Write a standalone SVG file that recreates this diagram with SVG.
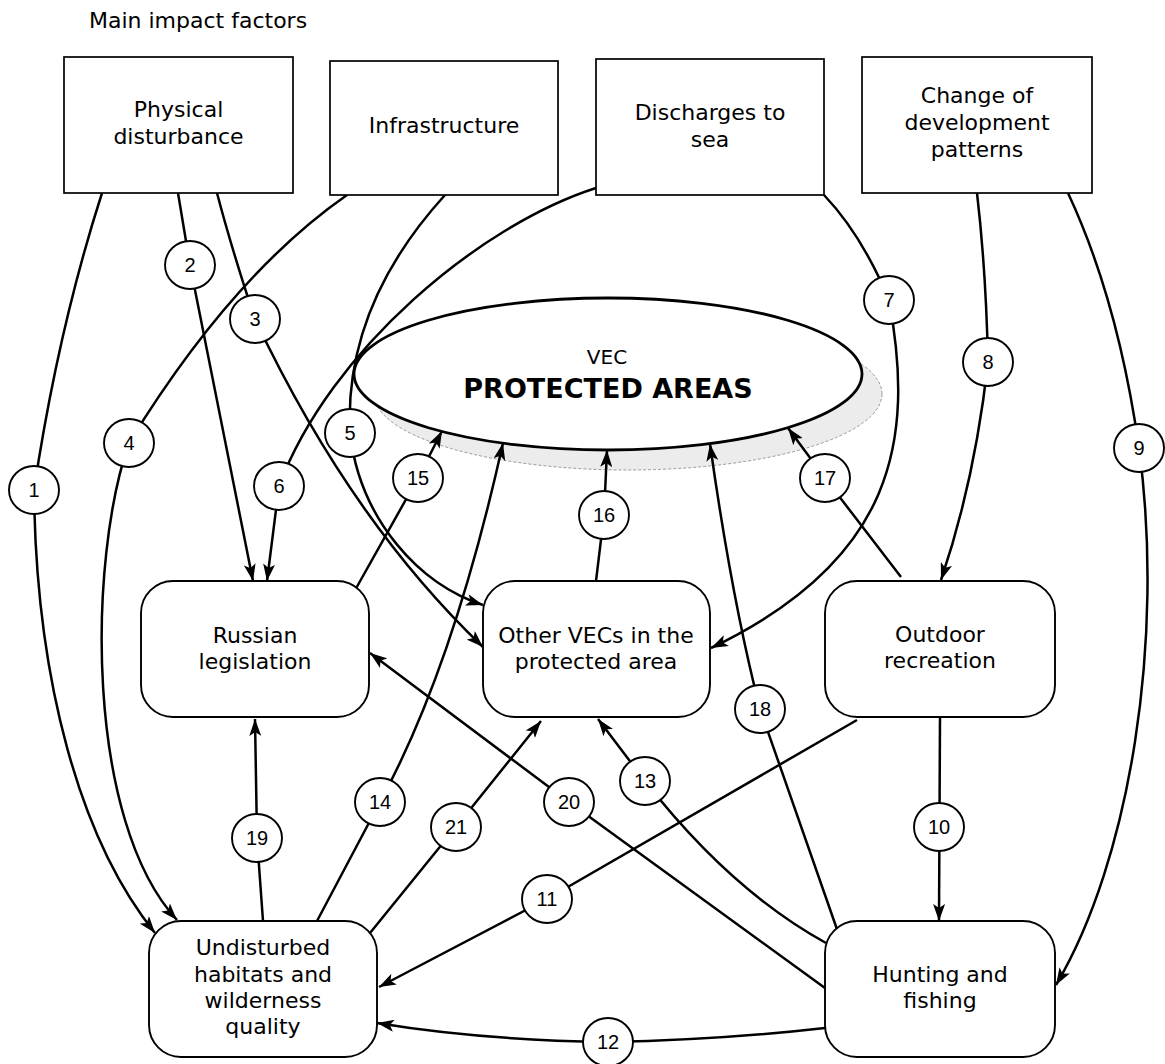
<svg xmlns="http://www.w3.org/2000/svg" width="1165" height="1064" viewBox="0 0 1165 1064">
<style>
  .box { fill: #fff; stroke: #000; stroke-width: 1.7; }
  .rbox { fill: #fff; stroke: #000; stroke-width: 1.9; }
  .txt { font-family: "DejaVu Sans", "Liberation Sans", sans-serif; font-size: 22px; fill: #000; text-anchor: middle; }
  .title { font-family: "DejaVu Sans", "Liberation Sans", sans-serif; font-size: 22px; fill: #000; }
  .conn { fill: none; stroke: #000; stroke-width: 2.5; }
  .arr { marker-end: url(#ah); }
  .lab { fill: #fff; stroke: #000; stroke-width: 1.9; }
  .num { font-family: "Liberation Sans", Arial, sans-serif; font-size: 20px; fill: #000; text-anchor: middle; }
</style>
<defs>
  <marker id="ah" viewBox="0 0 17 12" refX="17" refY="6" markerWidth="17" markerHeight="12" markerUnits="userSpaceOnUse" orient="auto">
    <path d="M0,0 L17,6 L0,12 L4,6 Z" fill="#000"/>
  </marker>
</defs>
<rect width="1165" height="1064" fill="#fff"/>

<text class="title" x="89" y="28">Main impact factors</text>

<!-- shadow of the VEC ellipse -->
<ellipse cx="628" cy="394" rx="254" ry="76" fill="#ececec" stroke="#999" stroke-width="1" stroke-dasharray="3 2"/>

<g id="connectors">
  <path class="conn arr" d="M102,193 Q58,330 34,490 C36,680 80,840 155,933"/>
  <path class="conn arr" d="M178,193 L190,265 L253,581"/>
  <path class="conn arr" d="M217,193 Q232,250 255,319 Q350,520 483,647"/>
  <path class="conn arr" d="M347,195 Q232,275 129,443 C88,560 85,820 177,920"/>
  <path class="conn arr" d="M445,195 C395,250 345,330 350,433 C360,520 420,585 483,605"/>
  <path class="conn arr" d="M596,188 C480,225 330,350 279,486 L267,581"/>
  <path class="conn arr" d="M824,195 Q862,235 889,300 C915,440 895,560 711,648"/>
  <path class="conn arr" d="M977,193 Q986,270 988,362 Q975,480 941,580"/>
  <path class="conn arr" d="M1068,193 Q1118,300 1139,448 C1165,640 1130,860 1056,985"/>
  <path class="conn arr" d="M940,717 L939,921"/>
  <path class="conn arr" d="M857,720 L547,899 L379,987"/>
  <path class="conn arr" d="M825,1028 Q720,1040 608,1042 Q480,1040 377,1023"/>
  <path class="conn arr" d="M826,943 Q730,890 645,781 L598,719"/>
  <path class="conn arr" d="M317,921 L380,802 Q453,668 503,443"/>
  <path class="conn arr" d="M354,592 L418,478 L442,431"/>
  <path class="conn arr" d="M596,581 L604,515 L607,450"/>
  <path class="conn arr" d="M901,577 L825,478 L788,428"/>
  <path class="conn arr" d="M839,935 L760,709 Q732,600 710,444"/>
  <path class="conn arr" d="M263,921 L257,838 L255,719"/>
  <path class="conn arr" d="M825,988 L569,802 L370,653"/>
  <path class="conn arr" d="M370,933 L456,827 L541,721"/>
</g>

<g id="n-physical">
  <rect class="box" x="64" y="57" width="229" height="136"/>
  <text class="txt" x="178.5" y="117">Physical</text>
  <text class="txt" x="178.5" y="144">disturbance</text>
</g>
<g id="n-infrastructure">
  <rect class="box" x="330" y="61" width="228" height="134"/>
  <text class="txt" x="444" y="133">Infrastructure</text>
</g>
<g id="n-discharges">
  <rect class="box" x="596" y="59" width="228" height="136"/>
  <text class="txt" x="710" y="120">Discharges to</text>
  <text class="txt" x="710" y="147">sea</text>
</g>
<g id="n-change">
  <rect class="box" x="862" y="57" width="230" height="136"/>
  <text class="txt" x="977" y="103">Change of</text>
  <text class="txt" x="977" y="130">development</text>
  <text class="txt" x="977" y="157">patterns</text>
</g>
<g id="n-protected">
  <ellipse cx="608" cy="374" rx="254" ry="76" fill="#fff" stroke="#000" stroke-width="2.8"/>
  <text class="txt" x="607" y="364" style="font-size:20px">VEC</text>
  <text class="txt" x="608" y="398" style="font-size:27px;font-weight:bold">PROTECTED AREAS</text>
</g>
<g id="n-russian">
  <rect class="rbox" x="141" y="581" width="228" height="136" rx="32" ry="32"/>
  <text class="txt" x="255" y="643">Russian</text>
  <text class="txt" x="255" y="669">legislation</text>
</g>
<g id="n-othervecs">
  <rect class="rbox" x="483" y="581" width="227" height="136" rx="32" ry="32"/>
  <text class="txt" x="596" y="643">Other VECs in the</text>
  <text class="txt" x="596" y="669">protected area</text>
</g>
<g id="n-outdoor">
  <rect class="rbox" x="825" y="581" width="230" height="136" rx="32" ry="32"/>
  <text class="txt" x="940" y="642">Outdoor</text>
  <text class="txt" x="940" y="668">recreation</text>
</g>
<g id="n-undisturbed">
  <rect class="rbox" x="149" y="921" width="228" height="136" rx="32" ry="32"/>
  <text class="txt" x="263" y="955">Undisturbed</text>
  <text class="txt" x="263" y="982">habitats and</text>
  <text class="txt" x="263" y="1008">wilderness</text>
  <text class="txt" x="263" y="1034">quality</text>
</g>
<g id="n-hunting">
  <rect class="rbox" x="825" y="921" width="230" height="136" rx="32" ry="32"/>
  <text class="txt" x="940" y="982">Hunting and</text>
  <text class="txt" x="940" y="1008">fishing</text>
</g>

<g id="connector-labels">
  <g><ellipse class="lab" cx="34" cy="490" rx="25" ry="24"/><text class="num" x="34" y="497">1</text></g>
  <g><ellipse class="lab" cx="190" cy="265" rx="25" ry="24"/><text class="num" x="190" y="272">2</text></g>
  <g><ellipse class="lab" cx="255" cy="319" rx="25" ry="24"/><text class="num" x="255" y="326">3</text></g>
  <g><ellipse class="lab" cx="129" cy="443" rx="25" ry="24"/><text class="num" x="129" y="450">4</text></g>
  <g><ellipse class="lab" cx="350" cy="433" rx="25" ry="24"/><text class="num" x="350" y="440">5</text></g>
  <g><ellipse class="lab" cx="279" cy="486" rx="25" ry="24"/><text class="num" x="279" y="493">6</text></g>
  <g><ellipse class="lab" cx="889" cy="300" rx="25" ry="24"/><text class="num" x="889" y="307">7</text></g>
  <g><ellipse class="lab" cx="988" cy="362" rx="25" ry="24"/><text class="num" x="988" y="369">8</text></g>
  <g><ellipse class="lab" cx="1139" cy="448" rx="25" ry="24"/><text class="num" x="1139" y="455">9</text></g>
  <g><ellipse class="lab" cx="939" cy="827" rx="25" ry="24"/><text class="num" x="939" y="834">10</text></g>
  <g><ellipse class="lab" cx="547" cy="899" rx="25" ry="24"/><text class="num" x="547" y="906">11</text></g>
  <g><ellipse class="lab" cx="608" cy="1042" rx="25" ry="24"/><text class="num" x="608" y="1049">12</text></g>
  <g><ellipse class="lab" cx="645" cy="781" rx="25" ry="24"/><text class="num" x="645" y="788">13</text></g>
  <g><ellipse class="lab" cx="380" cy="802" rx="25" ry="24"/><text class="num" x="380" y="809">14</text></g>
  <g><ellipse class="lab" cx="418" cy="478" rx="25" ry="24"/><text class="num" x="418" y="485">15</text></g>
  <g><ellipse class="lab" cx="604" cy="515" rx="25" ry="24"/><text class="num" x="604" y="522">16</text></g>
  <g><ellipse class="lab" cx="825" cy="478" rx="25" ry="24"/><text class="num" x="825" y="485">17</text></g>
  <g><ellipse class="lab" cx="760" cy="709" rx="25" ry="24"/><text class="num" x="760" y="716">18</text></g>
  <g><ellipse class="lab" cx="257" cy="838" rx="25" ry="24"/><text class="num" x="257" y="845">19</text></g>
  <g><ellipse class="lab" cx="569" cy="802" rx="25" ry="24"/><text class="num" x="569" y="809">20</text></g>
  <g><ellipse class="lab" cx="456" cy="827" rx="25" ry="24"/><text class="num" x="456" y="834">21</text></g>
</g>
</svg>
